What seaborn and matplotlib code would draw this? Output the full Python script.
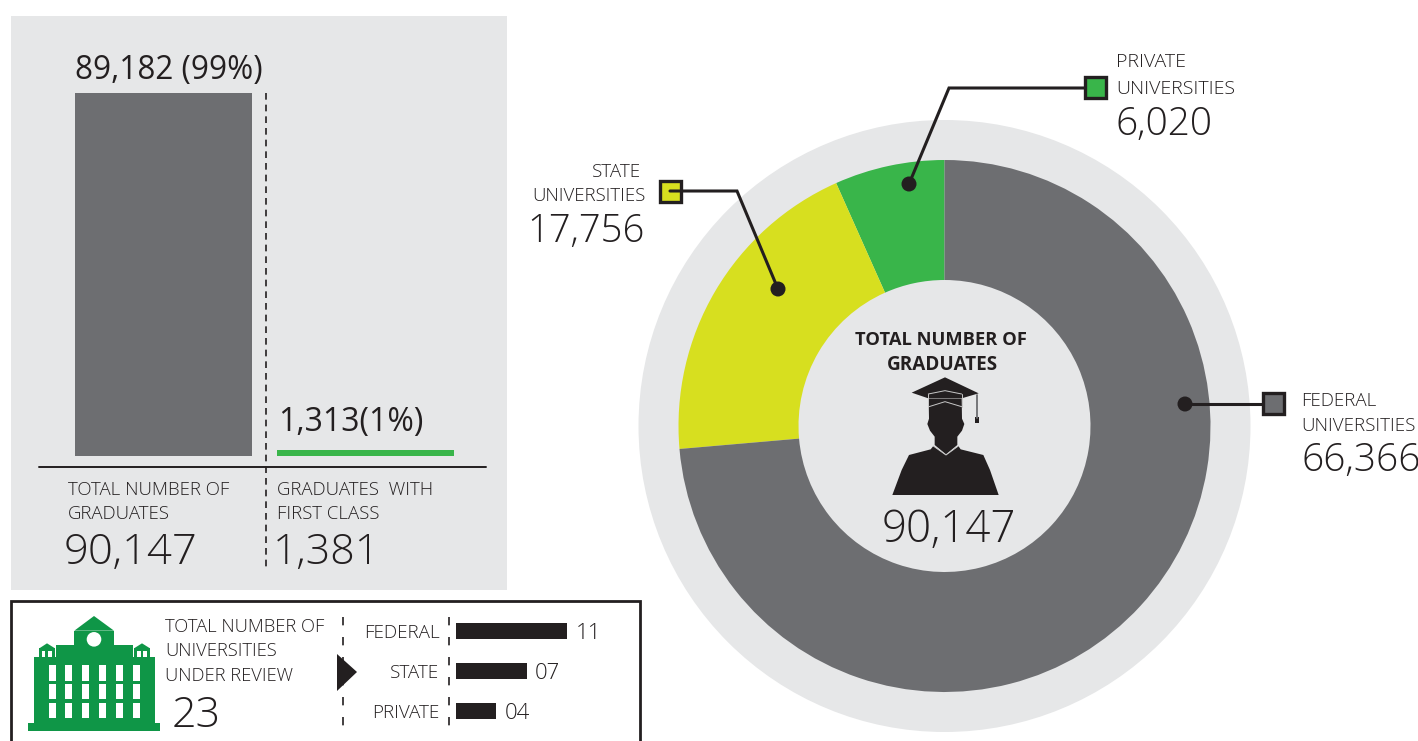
import pandas as pd
import matplotlib.pyplot as plt
import seaborn as sns
from matplotlib.patches import Circle, Polygon, Rectangle

# Data
first_class_groups = ['TOTAL', 'FIRST CLASS']
first_class_values = [89182, 1313]
university_types = ['FEDERAL', 'STATE', 'PRIVATE']
university_counts = [11, 7, 4]
university_labels = ['11', '07', '04']
donut_groups = ['PRIVATE', 'STATE', 'FEDERAL']
donut_values = [6020, 17756, 66366]

GREY = '#6d6e71'
LIGHT = '#e6e7e8'
GREEN = '#39b54a'
YELLOW = '#d7df1f'
DARK_GREEN = '#0f9647'
BLACK = '#231f20'
W, H = 1418, 741

sns.set_theme(style='white')
plt.rcParams['font.family'] = ['Open Sans', 'DejaVu Sans']


def px_axes(fig, left, top, right, bottom, **kw):
    # axes placed by pixel box, y measured from the top
    return fig.add_axes([left / W, 1 - bottom / H, (right - left) / W, (bottom - top) / H], **kw)


def txt(ax, x, y, s, size=13.4, ha='left', weight='light', **kw):
    ax.text(x, y, s, fontsize=size, ha=ha, va='center_baseline', color=BLACK, fontweight=weight, **kw)


fig = plt.figure(figsize=(W / 100, H / 100), dpi=100, facecolor='white')

# background layer in pixel coordinates
bg = px_axes(fig, 0, 0, W, H, zorder=0)
bg.set_xlim(0, W)
bg.set_ylim(H, 0)
bg.axis('off')
bg.add_patch(Rectangle((11, 16), 496, 574, color=LIGHT, lw=0))
bg.add_patch(Rectangle((11, 601), 629, 160, fc='white', ec=BLACK, lw=2))
bg.add_patch(Circle((944.5, 426), 306, color=LIGHT, lw=0))

# left panel bars
ax_bar = px_axes(fig, 62.5, 93, 466.5, 455.5, zorder=1)
ax_bar.patch.set_alpha(0)
bar_df = pd.DataFrame({'group': first_class_groups, 'value': first_class_values})
sns.barplot(data=bar_df, x='group', y='value', hue='group', palette=[GREY, GREEN], saturation=1,
            width=177 / 202, dodge=False, legend=False, linewidth=0, ax=ax_bar)
ax_bar.set_xlim(-0.5, 1.5)
ax_bar.set_ylim(0, max(first_class_values))
ax_bar.axis('off')

# donut
ax_pie = px_axes(fig, 678.5, 160, 1210.5, 692, zorder=1)
ax_pie.pie(donut_values, colors=[GREEN, YELLOW, GREY], startangle=90, radius=1,
           wedgeprops={'width': 120 / 266, 'linewidth': 0})
ax_pie.set_xlim(-1, 1)
ax_pie.set_ylim(-1, 1)

# universities bars
ax_uni = px_axes(fig, 456, 611, 567, 731, zorder=1)
ax_uni.patch.set_alpha(0)
uni_df = pd.DataFrame({'type': university_types, 'count': university_counts})
sns.barplot(data=uni_df, y='type', x='count', color=BLACK, saturation=1, width=0.4, linewidth=0, ax=ax_uni)
ax_uni.set_xlim(0, 11)
ax_uni.set_xlabel('')
ax_uni.set_ylabel('')
ax_uni.set_xticks([])
sns.despine(ax=ax_uni, left=True, bottom=True)
ax_uni.tick_params(axis='y', length=0, pad=12)
for lab in ax_uni.get_yticklabels():
    lab.set_fontsize(13.6)
    lab.set_color(BLACK)
    lab.set_fontweight('light')
    lab.set_verticalalignment('center_baseline')
value_labels = ax_uni.bar_label(ax_uni.containers[0], labels=university_labels, padding=6,
                                fontsize=16, color=BLACK, clip_on=False, fontweight='light')
for lab in value_labels:
    lab.set_verticalalignment('center_baseline')

# top layer: rules, callouts, icons and text
top = px_axes(fig, 0, 0, W, H, zorder=2)
top.patch.set_alpha(0)
top.set_xlim(0, W)
top.set_ylim(H, 0)
top.axis('off')

top.plot([39, 486], [467, 467], color=BLACK, lw=1.4)
top.plot([266, 266], [93, 570], color=BLACK, lw=1.2, dashes=(4, 3))
top.plot([343, 343], [617, 731], color=BLACK, lw=1.2, dashes=(5, 7))
top.plot([449, 449], [617, 731], color=BLACK, lw=1.2, dashes=(5, 7))
top.add_patch(Polygon([(337, 654), (357, 672), (337, 691)], color=BLACK, lw=0))

# callouts
callouts = [
    ([(909, 184), (949, 88), (1085, 88)], (1085, 77), GREEN),
    ([(778, 289), (737, 191), (670, 191)], (660, 181), YELLOW),
    ([(1185, 404), (1263, 404)], (1263, 393), GREY),
]
for pts, corner, col in callouts:
    xs, ys = zip(*pts)
    top.plot(xs, ys, color=BLACK, lw=2.2, solid_joinstyle='miter')
    top.add_patch(Circle(pts[0], 7.5, color=BLACK, lw=0))
    top.add_patch(Rectangle(corner, 21, 21, fc=col, ec=BLACK, lw=2.4))

# graduate icon (picture, not data)
gx = lambda x: 840 + x / 3
gy = lambda y: 320 + y / 3
body = [(157, 525), (185, 450), (207, 405), (272, 388), (280, 378), (318, 405), (355, 378), (362, 388),
        (430, 405), (450, 450), (476, 525)]
head = [(266, 236), (365, 236), (366, 296), (373, 312), (366, 332), (352, 350), (352, 375), (318, 403),
        (284, 375), (284, 350), (270, 332), (262, 312), (267, 296)]
cap = [(315, 172), (416, 220), (365, 235), (265, 235), (215, 218)]
for shape in (body, head, cap):
    top.add_patch(Polygon([(gx(a), gy(b)) for a, b in shape], color=BLACK, lw=0))
top.plot([gx(265), gx(315), gx(365)], [gy(222), gy(212), gy(222)], color='#c8c8c8', lw=0.7)
top.plot([gx(267), gx(315), gx(365)], [gy(260), gy(245), gy(260)], color='#c8c8c8', lw=0.7)
top.plot([gx(265), gx(265)], [gy(222), gy(260)], color='#c8c8c8', lw=0.7)
top.plot([gx(365), gx(365)], [gy(222), gy(260)], color='#c8c8c8', lw=0.7)
top.plot([gx(280), gx(318), gx(355)], [gy(378), gy(405), gy(378)], color='#c8c8c8', lw=0.7)
top.plot([gx(411), gx(411)], [gy(225), gy(295)], color=GREY, lw=1.3)
top.add_patch(Rectangle((gx(405), gy(290)), 4, 6, color=BLACK, lw=0))

# building icon (picture, not data)
bx = lambda x: 20 + x / 3
by = lambda y: 610 + y / 3
blocks = [(24, 338, 421, 362), (42, 141, 405, 338), (108, 105, 340, 141), (163, 62, 282, 105),
          (58, 115, 105, 141), (342, 115, 390, 141)]
for x0, y0, x1, y1 in blocks:
    top.add_patch(Rectangle((bx(x0), by(y0)), (x1 - x0) / 3, (y1 - y0) / 3, color=DARK_GREEN, lw=0))
roofs = [[(163, 62), (222, 18), (282, 62)], [(58, 115), (81, 100), (105, 115)], [(342, 115), (366, 100), (390, 115)]]
for roof in roofs:
    top.add_patch(Polygon([(bx(a), by(b)) for a, b in roof], color=DARK_GREEN, lw=0))
top.add_patch(Circle((bx(222), by(88)), 7.3, color='white', lw=0))
for x0 in (86, 136, 187, 238, 288, 339):
    for y0 in (166, 222, 278):
        top.add_patch(Rectangle((bx(x0), by(y0)), 7, 15.3, color='white', lw=0))
for x0 in (65, 84, 351, 370):
    top.add_patch(Rectangle((bx(x0), by(124)), 3.7, 5.7, color='white', lw=0))

# text
txt(top, 75, 66, '89,182 (99%)', size=22.7, weight='normal')
txt(top, 278, 418, '1,313(1%)', size=23, weight='normal')
txt(top, 68, 488, 'TOTAL NUMBER OF')
txt(top, 68, 512, 'GRADUATES')
txt(top, 64, 548, '90,147', size=31.3)
txt(top, 277, 488, 'GRADUATES  WITH')
txt(top, 277, 512, 'FIRST CLASS')
txt(top, 273, 548, '1,381', size=31)

txt(top, 165, 625, 'TOTAL NUMBER OF', size=13.2)
txt(top, 165, 649, 'UNIVERSITIES', size=13.2)
txt(top, 165, 674, 'UNDER REVIEW', size=13.2)
txt(top, 172, 711, '23', size=31)

txt(top, 1116, 60, 'PRIVATE', size=14)
txt(top, 1116, 87, 'UNIVERSITIES', size=14)
txt(top, 1116, 120, '6,020', size=28)
txt(top, 641, 170, 'STATE', ha='right', size=13.5)
txt(top, 645, 194, 'UNIVERSITIES', ha='right', size=13.4)
txt(top, 645, 227, '17,756', size=27.5, ha='right')
txt(top, 1301, 399, 'FEDERAL', size=13.5)
txt(top, 1301, 424, 'UNIVERSITIES', size=13.5)
txt(top, 1301, 456, '66,366', size=28)

txt(top, 940.5, 338, 'TOTAL NUMBER OF', size=13.2, ha='center', weight='bold')
txt(top, 942.5, 362, 'GRADUATES', size=13.6, ha='center', weight='bold')
txt(top, 949, 525, '90,147', size=31.5, ha='center')

fig.savefig('out.png', dpi=100)
